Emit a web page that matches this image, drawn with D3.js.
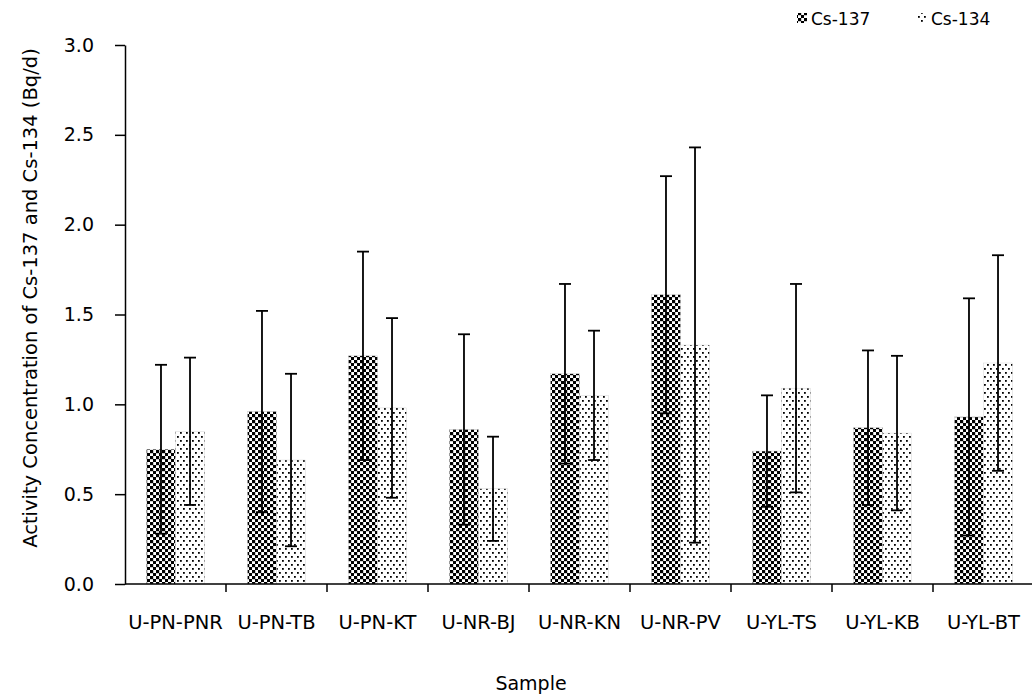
<!DOCTYPE html>
<html>
<head>
<meta charset="utf-8">
<script src="https://cdn.jsdelivr.net/npm/d3@7"></script>
<style>
  body { margin: 0; background: #fff; }
  text { font-family: "DejaVu Sans", sans-serif; fill: #000; }
  .domain, .tick line { stroke: #000; stroke-width: 1.5; }
</style>
</head>
<body>
<div id="chart"></div>
<script>
// chart values
var samples = ["U-PN-PNR", "U-PN-TB", "U-PN-KT", "U-NR-BJ", "U-NR-KN", "U-NR-PV", "U-YL-TS", "U-YL-KB", "U-YL-BT"];
var series = ["Cs-137", "Cs-134"];
var cs137 = [0.75, 0.96, 1.27, 0.86, 1.17, 1.61, 0.74, 0.87, 0.93];
var cs137Err = [0.47, 0.56, 0.58, 0.53, 0.50, 0.66, 0.31, 0.43, 0.66];
var cs134 = [0.85, 0.69, 0.98, 0.53, 1.05, 1.33, 1.09, 0.84, 1.23];
var cs134Err = [0.41, 0.48, 0.50, 0.29, 0.36, 1.10, 0.58, 0.43, 0.60];
var yTicks = [0, 0.5, 1.0, 1.5, 2.0, 2.5, 3.0];

var svgWidth = 1032, svgHeight = 700;
var margin = { top: 45, left: 125, bottom: 116 };
var plotBottom = svgHeight - margin.bottom;

var svg = d3.select("#chart").append("svg")
    .attr("width", svgWidth)
    .attr("height", svgHeight);

// patterns
var defs = svg.append("defs");
var checker = defs.append("pattern")
    .attr("id", "checker")
    .attr("patternUnits", "userSpaceOnUse")
    .attr("width", 6).attr("height", 6);
checker.append("rect").attr("width", 6).attr("height", 6).attr("fill", "#fff");
checker.append("rect").attr("x", 0).attr("y", 0).attr("width", 3.2).attr("height", 3.2).attr("fill", "#000");
checker.append("rect").attr("x", 3).attr("y", 3).attr("width", 3.2).attr("height", 3.2).attr("fill", "#000");

var dots = defs.append("pattern")
    .attr("id", "dots")
    .attr("patternUnits", "userSpaceOnUse")
    .attr("width", 6).attr("height", 8);
dots.append("rect").attr("width", 6).attr("height", 8).attr("fill", "#fff");
dots.append("rect").attr("x", 0).attr("y", 0).attr("width", 1.8).attr("height", 1.8).attr("fill", "#000");
dots.append("rect").attr("x", 3).attr("y", 4).attr("width", 1.8).attr("height", 1.8).attr("fill", "#000");

var fills = { "Cs-137": "url(#checker)", "Cs-134": "url(#dots)" };

// scales
var x = d3.scaleBand()
    .domain(samples)
    .range([margin.left, margin.left + 101 * samples.length]);

var xSub = d3.scaleBand()
    .domain(series)
    .range([0, x.bandwidth()])
    .paddingOuter(0.74);

var y = d3.scaleLinear()
    .domain([0, 3])
    .range([plotBottom, margin.top]);

var data = samples.map(function (s, i) {
    return [
        { sample: s, series: "Cs-137", value: cs137[i], err: cs137Err[i] },
        { sample: s, series: "Cs-134", value: cs134[i], err: cs134Err[i] }
    ];
}).flat();

// bars
svg.append("g").selectAll("rect")
    .data(data)
    .enter()
    .append("rect")
    .attr("x", d => x(d.sample) + xSub(d.series))
    .attr("y", d => y(d.value))
    .attr("width", xSub.bandwidth())
    .attr("height", d => y(0) - y(d.value))
    .attr("fill", d => fills[d.series])
    .attr("stroke", "#ccc")
    .attr("stroke-width", 0.4);

// error bars
var errG = svg.append("g")
    .attr("stroke", "#000")
    .attr("stroke-width", 1.8);
data.forEach(function (d) {
    var cx = x(d.sample) + xSub(d.series) + xSub.bandwidth() / 2;
    errG.append("line")
        .attr("x1", cx).attr("x2", cx)
        .attr("y1", y(d.value + d.err)).attr("y2", y(d.value - d.err));
    [d.value + d.err, d.value - d.err].forEach(function (v) {
        errG.append("line")
            .attr("x1", cx - 6).attr("x2", cx + 6)
            .attr("y1", y(v)).attr("y2", y(v));
    });
});

// y axis
var leftAxis = d3.axisLeft(y)
    .tickValues(yTicks)
    .tickFormat(d3.format(".1f"))
    .tickSize(10)
    .tickSizeOuter(0)
    .tickPadding(21);
var yAxisG = svg.append("g")
    .attr("transform", `translate(${margin.left}, 0)`)
    .call(leftAxis);
yAxisG.selectAll("text").style("font-size", "19px");

// x axis line with ticks at group boundaries
var xAxisG = svg.append("g");
xAxisG.append("line")
    .attr("x1", margin.left).attr("x2", svgWidth)
    .attr("y1", plotBottom).attr("y2", plotBottom)
    .attr("stroke", "#000").attr("stroke-width", 1.5);
xAxisG.selectAll("line.tk")
    .data(samples.slice(1))
    .enter()
    .append("line")
    .attr("class", "tk")
    .attr("x1", d => x(d)).attr("x2", d => x(d))
    .attr("y1", plotBottom).attr("y2", plotBottom + 8)
    .attr("stroke", "#000").attr("stroke-width", 1.5);
xAxisG.selectAll("text")
    .data(samples)
    .enter()
    .append("text")
    .attr("x", d => x(d) + x.bandwidth() / 2)
    .attr("y", plotBottom + 45)
    .attr("text-anchor", "middle")
    .style("font-size", "19.5px")
    .text(d => d);

// axis titles
svg.append("text")
    .attr("transform", `translate(37, 298) rotate(-90)`)
    .attr("text-anchor", "middle")
    .style("font-size", "19.5px")
    .text("Activity Concentration of Cs-137 and Cs-134 (Bq/d)");

svg.append("text")
    .attr("x", 531)
    .attr("y", 690)
    .attr("text-anchor", "middle")
    .style("font-size", "19px")
    .text("Sample");

// legend
var legend = svg.append("g");
var legendX = [797, 917];
series.forEach(function (s, i) {
    legend.append("rect")
        .attr("x", legendX[i]).attr("y", 13)
        .attr("width", 10).attr("height", 10)
        .attr("fill", fills[s]);
    legend.append("text")
        .attr("x", legendX[i] + 14)
        .attr("y", 25)
        .style("font-size", "17px")
        .text(s);
});
</script>
</body>
</html>
